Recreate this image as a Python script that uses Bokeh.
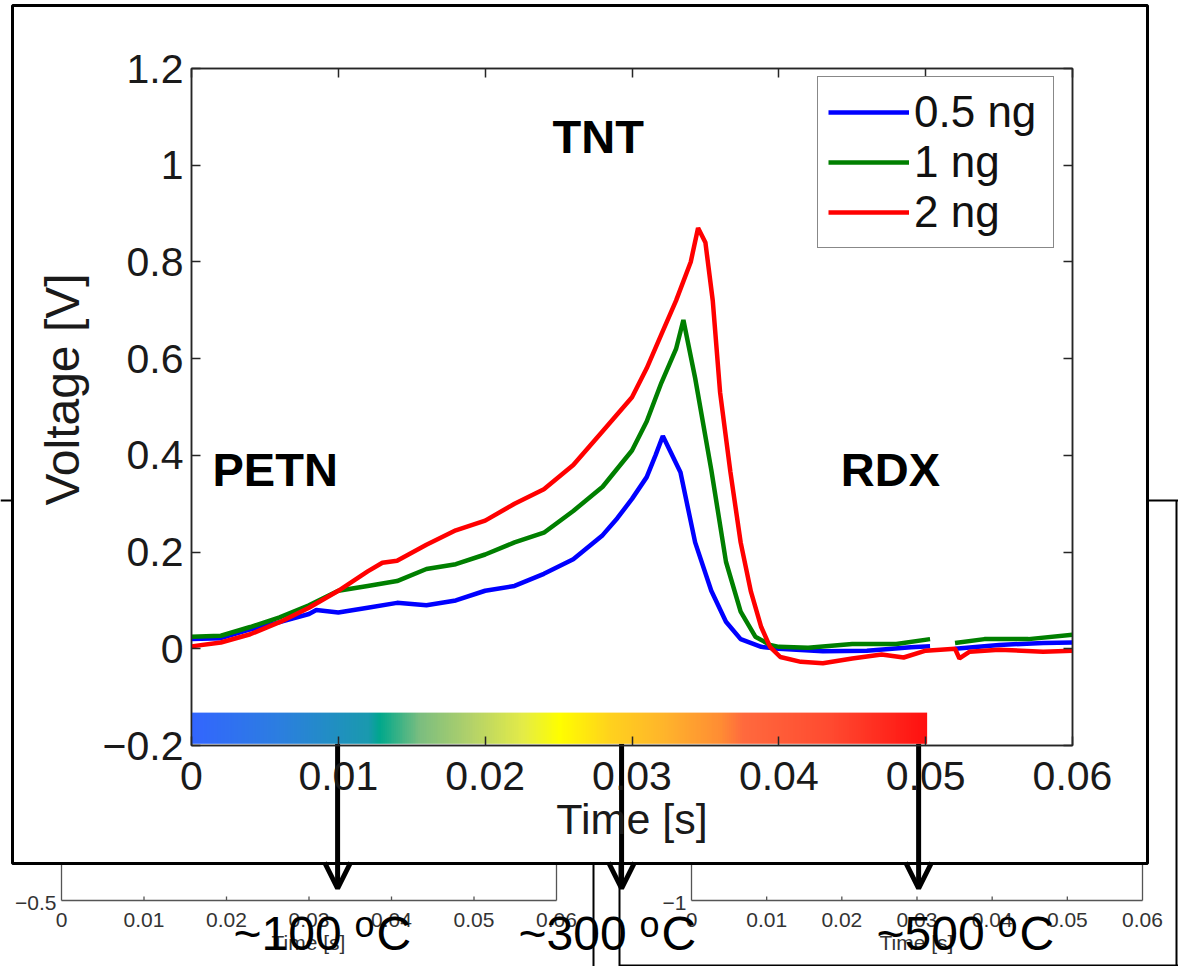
import math
import numpy as np
from bokeh.plotting import figure
from bokeh.models import Range1d, LinearAxis, FixedTicker, Label, Arrow, OpenHead, Column
from bokeh.embed import file_html
from bokeh.resources import INLINE
from bokeh.core.properties import value

NaN = float("nan")

# ---------------- data ----------------
series_names = ["0.5 ng", "1 ng", "2 ng"]
series_colors = ["#0000FF", "#007F00", "#FF0000"]

t_05 = [0.0, 0.002, 0.004, 0.006, 0.008, 0.0085, 0.010, 0.012, 0.014, 0.016, 0.018,
        0.020, 0.022, 0.024, 0.026, 0.028, 0.029, 0.030, 0.031, 0.0316, 0.0321,
        0.0333, 0.0343, 0.0354, 0.0364, 0.0374, 0.0388, 0.040, 0.043, 0.046, 0.049,
        0.0503, 0.051, 0.052, 0.055, 0.058, 0.060]
v_05 = [0.02, 0.022, 0.04, 0.055, 0.072, 0.08, 0.075, 0.085, 0.095, 0.09, 0.10,
        0.12, 0.13, 0.155, 0.185, 0.235, 0.27, 0.31, 0.355, 0.40, 0.44,
        0.365, 0.22, 0.12, 0.056, 0.02, 0.004, 0.0, -0.005, -0.004, 0.003,
        0.005, NaN, 0.0, 0.008, 0.012, 0.013]

t_1 = [0.0, 0.002, 0.004, 0.006, 0.008, 0.010, 0.012, 0.014, 0.016, 0.018,
       0.020, 0.022, 0.024, 0.026, 0.028, 0.030, 0.031, 0.032, 0.033, 0.0335,
       0.0343, 0.0354, 0.0364, 0.0374, 0.0384, 0.0394, 0.040, 0.042, 0.045, 0.048,
       0.0503, 0.051, 0.052, 0.054, 0.057, 0.060]
v_1 = [0.025, 0.027, 0.045, 0.065, 0.09, 0.12, 0.13, 0.14, 0.165, 0.175,
       0.195, 0.22, 0.24, 0.285, 0.335, 0.41, 0.47, 0.55, 0.62, 0.68,
       0.56, 0.37, 0.18, 0.077, 0.025, 0.008, 0.004, 0.002, 0.01, 0.01,
       0.02, NaN, 0.012, 0.02, 0.02, 0.029]

t_2 = [0.0, 0.002, 0.004, 0.006, 0.008, 0.010, 0.012, 0.013, 0.014, 0.016,
       0.018, 0.020, 0.022, 0.024, 0.026, 0.028, 0.030, 0.031, 0.032, 0.033,
       0.034, 0.0345, 0.0350, 0.0355, 0.0360, 0.0367, 0.0374, 0.0381, 0.0388, 0.0394,
       0.0401, 0.0415, 0.043, 0.045, 0.047, 0.0485, 0.050, 0.052, 0.0523, 0.053,
       0.055, 0.058, 0.060]
v_2 = [0.005, 0.013, 0.03, 0.055, 0.085, 0.12, 0.16, 0.178, 0.182, 0.215,
       0.245, 0.265, 0.30, 0.33, 0.38, 0.45, 0.52, 0.58, 0.65, 0.72,
       0.80, 0.87, 0.84, 0.72, 0.53, 0.366, 0.22, 0.118, 0.045, 0.004,
       -0.017, -0.027, -0.03, -0.02, -0.012, -0.018, -0.004, 0.0, -0.02, -0.006,
       -0.002, -0.006, -0.004]

x_ticks = [0, 0.01, 0.02, 0.03, 0.04, 0.05, 0.06]
x_tick_labels = ["0", "0.01", "0.02", "0.03", "0.04", "0.05", "0.06"]
y_ticks = [-0.2, 0, 0.2, 0.4, 0.6, 0.8, 1.0, 1.2]
y_tick_labels = ["\u22120.2", "0", "0.2", "0.4", "0.6", "0.8", "1", "1.2"]

compound_names = ["PETN", "TNT", "RDX"]
compound_t = [0.0057, 0.0277, 0.0476]
compound_v = [0.37, 1.059, 0.37]

# temperature colour bar (position along bar 0..1, colour)
cb_pos = [0.0, 0.12, 0.24, 0.255, 0.31, 0.38, 0.45, 0.50, 0.57, 0.645, 0.72, 0.75, 0.87, 1.0]
cb_col = ["#3366FF", "#2C7FE0", "#1A9AAF", "#00A88C", "#7CBE80", "#B4D26A", "#E4EC48",
          "#FFFF00", "#FFD21E", "#FFB42C", "#FF8C34", "#FF6A3E", "#FF4A30", "#FF1010"]
cb_t = [0.0, 0.0501]
cb_v = [-0.1965, -0.132]

temp_names = ["~100", "~300", "~500"]
temp_t = [0.00995, 0.02929, 0.04952]

bg_tick_labels = ["0", "0.01", "0.02", "0.03", "0.04", "0.05", "0.06"]
bg_ylabels = ["\u22120.5", "\u22121"]

FONT = "Liberation Sans"

# ================= background figure (page pixel space) =================
W, H = 1178, 966
bg = figure(width=W, height=H, x_range=Range1d(0, W), y_range=Range1d(H, 0),
            x_axis_type=None, y_axis_type=None, output_backend="svg",
            toolbar_location=None, min_border=0)
bg.outline_line_color = None
bg.xgrid.visible = False
bg.ygrid.visible = False
bg.background_fill_color = "white"
bg.border_fill_color = "white"

# main-chart pixel mapping (frame of the chart: x 191..1072, y 68..745)
PX0, PX1, PY0, PY1 = 191, 1072, 745, 68


def tx(t):
    return PX0 + (PX1 - PX0) * t / 0.06


def vy(v):
    return PY0 + (PY1 - PY0) * (v + 0.2) / 1.4


# partly hidden background panels
blk = dict(x0=[0, 593, 619, 1147, 1176, 619], y0=[500, 863, 863, 500, 500, 965],
           x1=[12, 593, 619, 1178, 1176, 1178], y1=[500, 966, 966, 500, 966, 965])
bg.segment(**blk, line_color="black", line_width=2)

gx0, gy0, gx1, gy1 = [], [], [], []
lx, ly, lt = [], [], []
for (x0, x1) in ((61, 556), (691, 1142)):
    gx0 += [x0, x1, x0]
    gy0 += [863, 863, 900]
    gx1 += [x0, x1, x1]
    gy1 += [900, 900, 900]
    n = len(bg_tick_labels) - 1
    for i, lab in enumerate(bg_tick_labels):
        xt = x0 + (x1 - x0) * i / n
        if 0 < i < n:
            gx0.append(xt); gy0.append(900); gx1.append(xt); gy1.append(896)
        lx.append(xt); ly.append(919); lt.append(lab)
bg.segment(x0=gx0, y0=gy0, x1=gx1, y1=gy1, line_color="#555555", line_width=1.3)
bg.text(x=lx, y=ly, text=lt, text_font=value(FONT), text_font_size="21px",
        text_align="center", text_baseline="middle", text_color="#333333")
bg.text(x=[56, 686], y=[902, 902], text=bg_ylabels, text_font=value(FONT),
        text_font_size="21px", text_align="right", text_baseline="middle", text_color="#333333")
bg.text(x=[308, 916], y=[942, 942], text=["Time [s]", "Time [s]"], text_font=value(FONT),
        text_font_size="21px", text_align="center", text_baseline="middle", text_color="#333333")

# white box of the main figure and its black frame
bg.quad(left=[12], right=[1147], top=[5], bottom=[863], fill_color="white",
        line_color="black", line_width=3)

# y-axis title of the main chart
bg.text(x=[62], y=[389], text=["Voltage [V]"], angle=math.pi / 2, text_font=value(FONT),
        text_font_size="48px", text_align="center", text_baseline="middle",
        text_color="#1a1a1a")

# temperature texts ("~100 " + raised "o" + "C")
temp_left = [233, 518, 876]
bg.text(x=temp_left, y=[933] * 3, text=[s + " " for s in temp_names], text_font=value(FONT),
        text_font_size="48px", text_align="left", text_baseline="middle", text_color="black")
bg.text(x=[l + 121 for l in temp_left], y=[924] * 3, text=["o"] * 3, text_font=value(FONT),
        text_font_size="36px", text_align="left", text_baseline="middle", text_color="black")
bg.text(x=[l + 143 for l in temp_left], y=[933] * 3, text=["C"] * 3, text_font=value(FONT),
        text_font_size="48px", text_align="left", text_baseline="middle", text_color="black")

# arrows from the colour bar down to the temperatures
for t in temp_t:
    bg.add_layout(Arrow(x_start=tx(t), y_start=vy(cb_v[0]), x_end=tx(t), y_end=888,
                        line_color="black", line_width=5, start=None,
                        end=OpenHead(size=26, line_width=5, line_color="black")))

# ================= main chart =================
OX, OY = 12, 5
W2, H2 = 1147 - OX, 863 - OY
FL, FR, FT, FB = PX0 - OX, PX1 - OX, PY1 - OY, PY0 - OY

p = figure(width=W2, height=H2, x_range=Range1d(0, 0.06), y_range=Range1d(-0.2, 1.2),
           output_backend="svg", toolbar_location=None,
           min_border_left=FL, min_border_right=W2 - FR, min_border_top=FT,
           min_border_bottom=H2 - FB)
p.styles = {"position": "absolute", "left": f"{OX}px", "top": f"{OY}px"}
for fig in (bg, p):
    try:
        fig.frame_align = False
    except Exception:
        pass
p.xgrid.visible = False
p.ygrid.visible = False
p.background_fill_alpha = 0
p.border_fill_alpha = 0
p.outline_line_color = "#262626"
p.outline_line_width = 1.5

AX = "#262626"
for ax in (p.xaxis[0], p.yaxis[0]):
    ax.major_label_text_font = FONT
    ax.major_label_text_font_size = "41px"
    ax.major_label_text_color = "#1a1a1a"
    ax.major_tick_in = 9
    ax.major_tick_out = 0
    ax.minor_tick_line_color = None
    ax.major_tick_line_color = AX
    ax.major_tick_line_width = 1.5
    ax.axis_line_color = AX
    ax.axis_line_width = 1.5
p.xaxis[0].ticker = FixedTicker(ticks=x_ticks)
p.xaxis[0].major_label_overrides = dict(zip(x_ticks, x_tick_labels))
p.yaxis[0].ticker = FixedTicker(ticks=y_ticks)
p.yaxis[0].major_label_overrides = dict(zip(y_ticks, y_tick_labels))
p.xaxis[0].major_label_standoff = 16
p.yaxis[0].major_label_standoff = 8
p.xaxis[0].axis_label = "Time [s]"
p.xaxis[0].axis_label_text_font = FONT
p.xaxis[0].axis_label_text_font_size = "43px"
p.xaxis[0].axis_label_text_font_style = "normal"
p.xaxis[0].axis_label_text_color = "#1a1a1a"
p.xaxis[0].axis_label_standoff = 2

for loc, ticks in (("above", x_ticks), ("right", y_ticks)):
    a = LinearAxis(ticker=FixedTicker(ticks=ticks), major_tick_in=9, major_tick_out=0,
                   minor_tick_line_color=None, major_label_text_font_size="1px",
                   major_label_text_alpha=0, major_label_standoff=0,
                   axis_line_color=AX, axis_line_width=1.5,
                   major_tick_line_color=AX, major_tick_line_width=1.5)
    p.add_layout(a, loc)

# temperature colour bar
N = 400
fr = np.linspace(0, 1, N)
rgb = [[int(c[i:i + 2], 16) for i in (1, 3, 5)] for c in cb_col]
img = np.zeros((1, N), dtype=np.uint32)
view = img.view(dtype=np.uint8).reshape((1, N, 4))
for k in range(3):
    view[0, :, k] = np.interp(fr, cb_pos, [c[k] for c in rgb]).astype(np.uint8)
view[0, :, 3] = 255
p.image_rgba(image=[img], x=cb_t[0], y=cb_v[0], dw=cb_t[1] - cb_t[0], dh=cb_v[1] - cb_v[0])

for t, v, name, col in zip([t_05, t_1, t_2], [v_05, v_1, v_2], series_names, series_colors):
    p.line(t, v, line_color=col, line_width=4.5, legend_label=name)

lg = p.legend[0]
lg.location = (626, 497)
lg.margin = 0
lg.padding = 10
lg.spacing = -7
lg.glyph_width = 81
lg.glyph_height = 40
lg.label_height = 40
lg.label_width = 129
lg.label_standoff = 5
lg.label_text_font = FONT
lg.label_text_font_size = "44px"
lg.label_text_color = "#111111"
lg.border_line_color = "#111111"
lg.border_line_width = 1.5
lg.background_fill_color = "white"
lg.background_fill_alpha = 1.0

for name, t, v in zip(compound_names, compound_t, compound_v):
    p.add_layout(Label(x=t, y=v, text=name, text_align="center", text_baseline="middle",
                       text_font=FONT, text_font_size="47px", text_font_style="bold",
                       text_color="black"))

root = Column(children=[bg, p])
root.styles = {"position": "relative"}
open("out.html", "w").write(file_html(root, INLINE))
